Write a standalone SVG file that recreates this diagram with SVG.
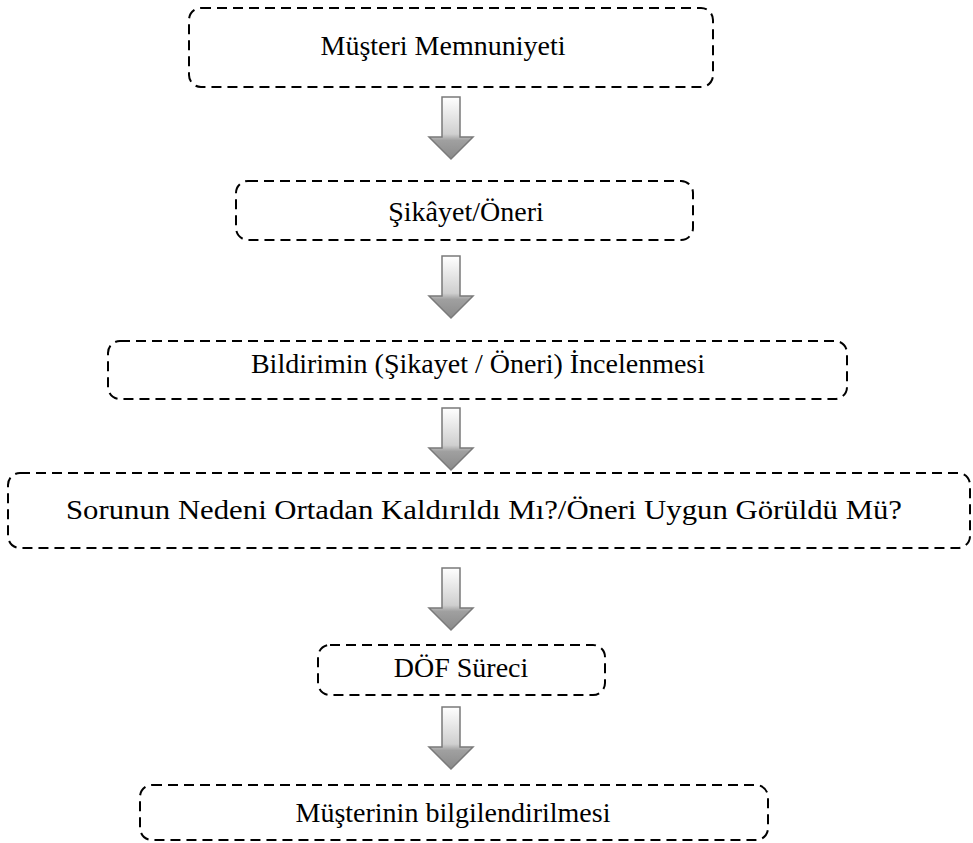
<svg xmlns="http://www.w3.org/2000/svg" width="973" height="843" viewBox="0 0 973 843">
<defs>
<linearGradient id="ag" x1="0" y1="0" x2="0" y2="1">
<stop offset="0" stop-color="#ffffff"/>
<stop offset="0.6" stop-color="#cfcfcf"/>
<stop offset="0.7" stop-color="#a0a0a0"/>
<stop offset="1" stop-color="#8a8a8a"/>
</linearGradient>
<polygon id="arr" points="-9,0 9,0 9,40 22,40 0,62 -22,40 -9,40"/>
</defs>
<style>
.box{fill:none;stroke:#000;stroke-width:2;stroke-dasharray:10,6}
.lbl{font-family:"Liberation Serif","Times New Roman",serif;font-size:28px;fill:#000;text-anchor:middle}
.ar{fill:url(#ag);stroke:#7a7a7a;stroke-width:1.5}
</style>
<rect width="973" height="843" fill="#fff"/>
<g id="connectors">
<use href="#arr" class="ar" x="451" y="97"/>
<use href="#arr" class="ar" x="451" y="256"/>
<use href="#arr" class="ar" x="451" y="408"/>
<use href="#arr" class="ar" x="451" y="568"/>
<use href="#arr" class="ar" x="451" y="707"/>
</g>
<g id="n1">
<rect class="box" x="189" y="8" width="524" height="79" rx="12"/>
<text class="lbl" x="443" y="55">Müşteri Memnuniyeti</text>
</g>
<g id="n2">
<rect class="box" x="236" y="181" width="457" height="59" rx="12"/>
<text class="lbl" x="466" y="221">Şikâyet/Öneri</text>
</g>
<g id="n3">
<rect class="box" x="108" y="341" width="739" height="58" rx="12"/>
<text class="lbl" x="478" y="373">Bildirimin (Şikayet / Öneri) İncelenmesi</text>
</g>
<g id="n4">
<rect class="box" x="8" y="473" width="962" height="75" rx="12"/>
<text class="lbl" x="484" y="519" font-size="29" textLength="836" lengthAdjust="spacingAndGlyphs">Sorunun Nedeni Ortadan Kaldırıldı Mı?/Öneri Uygun Görüldü Mü?</text>
</g>
<g id="n5">
<rect class="box" x="318" y="645" width="287" height="50" rx="12"/>
<text class="lbl" x="461" y="677">DÖF Süreci</text>
</g>
<g id="n6">
<rect class="box" x="140" y="785" width="628" height="55" rx="12"/>
<text class="lbl" x="453" y="822">Müşterinin bilgilendirilmesi</text>
</g>
</svg>
